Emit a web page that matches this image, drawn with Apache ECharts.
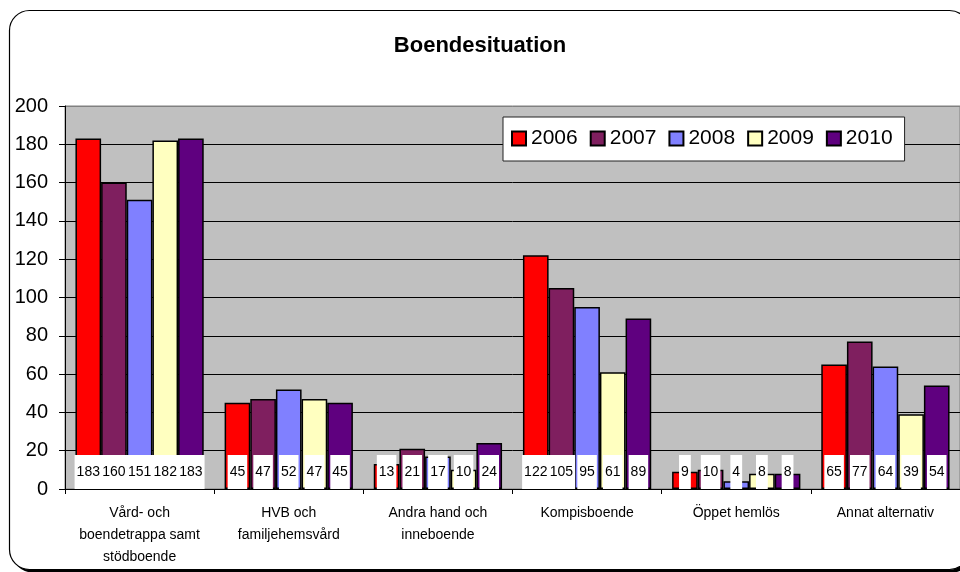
<!DOCTYPE html>
<html>
<head>
<meta charset="utf-8">
<script src="https://cdn.jsdelivr.net/npm/echarts@6/dist/echarts.min.js"></script>
<style>
html,body{margin:0;padding:0;background:#fff;}
#c{width:960px;height:572px;}
</style>
</head>
<body>
<div id="c"></div>
<script>
const categories = [
  "Vård- och\nboendetrappa samt\nstödboende",
  "HVB och\nfamiljehemsvård",
  "Andra hand och\ninneboende",
  "Kompisboende",
  "Öppet hemlös",
  "Annat alternativ"
];
const years = ["2006", "2007", "2008", "2009", "2010"];
const v2006 = [183, 45, 13, 122, 9, 65];
const v2007 = [160, 47, 21, 105, 10, 77];
const v2008 = [151, 52, 17, 95, 4, 64];
const v2009 = [182, 47, 10, 61, 8, 39];
const v2010 = [183, 45, 24, 89, 8, 54];
const yTicks = [0, 20, 40, 60, 80, 100, 120, 140, 160, 180, 200];

const values = [v2006, v2007, v2008, v2009, v2010];
const colors = ["#FF0000", "#7F1F5F", "#8080FF", "#FFFFC0", "#5F007F"];
const FONT = "'Liberation Sans', Arial, sans-serif";

const chart = echarts.init(document.getElementById('c'), null, {renderer: 'canvas'});

const series = years.map((y, i) => ({
  name: y,
  type: 'bar',
  data: values[i],
  barGap: '0%',
  barCategoryGap: '14%',
  itemStyle: {color: colors[i], borderColor: '#000', borderWidth: 1.5},
  label: {
    show: true,
    position: 'insideBottom',
    distance: 0,
    color: '#000',
    fontFamily: FONT,
    fontSize: 14,
    lineHeight: 14,
    backgroundColor: '#fff',
    padding: [10, 2, 10, 2]
  },
  emphasis: {disabled: true}
}));

const splitColors = yTicks.map((t, i) => i === yTicks.length - 1 ? '#808080' : '#000');

chart.setOption({
  animation: false,
  backgroundColor: 'transparent',
  textStyle: {fontFamily: FONT},
  graphic: [{
    type: 'rect',
    z: -101,
    shape: {x: 12.5, y: 13.5, width: 960, height: 559, r: 20},
    style: {fill: '#000'}
  }, {
    type: 'rect',
    z: -100,
    shape: {x: 9.5, y: 10.5, width: 960, height: 559, r: 20},
    style: {fill: '#fff', stroke: '#000', lineWidth: 1.2}
  }],
  title: {
    text: 'Boendesituation',
    left: 'center',
    top: 30,
    textStyle: {fontFamily: FONT, fontSize: 22, fontWeight: 'bold', color: '#000'}
  },
  legend: {
    left: 503,
    top: 117,
    orient: 'horizontal',
    itemWidth: 14,
    itemHeight: 14,
    itemGap: 12,
    icon: 'rect',
    padding: [11, 12, 12, 8],
    backgroundColor: '#fff',
    borderColor: '#222',
    borderWidth: 1,
    textStyle: {fontFamily: FONT, fontSize: 21, color: '#000'},
    data: years
  },
  grid: {
    left: 65, top: 106, width: 902, height: 383,
    show: true, backgroundColor: '#C0C0C0', borderColor: '#808080', borderWidth: 1
  },
  xAxis: {
    type: 'category',
    data: categories,
    axisLine: {lineStyle: {color: '#000', width: 1}},
    axisTick: {show: true, length: 5, lineStyle: {color: '#000'}},
    axisLabel: {
      interval: 0, margin: 13, color: '#000', fontFamily: FONT,
      fontSize: 14, lineHeight: 22
    }
  },
  yAxis: {
    type: 'value',
    min: 0, max: 200, interval: 20,
    axisLine: {show: true, lineStyle: {color: '#000', width: 1}},
    axisTick: {show: true, length: 6, inside: false, lineStyle: {color: '#000'}},
    axisLabel: {margin: 17, color: '#000', fontFamily: FONT, fontSize: 20},
    splitLine: {show: true, lineStyle: {color: splitColors, width: 1}}
  },
  series: series
});
</script>
</body>
</html>
